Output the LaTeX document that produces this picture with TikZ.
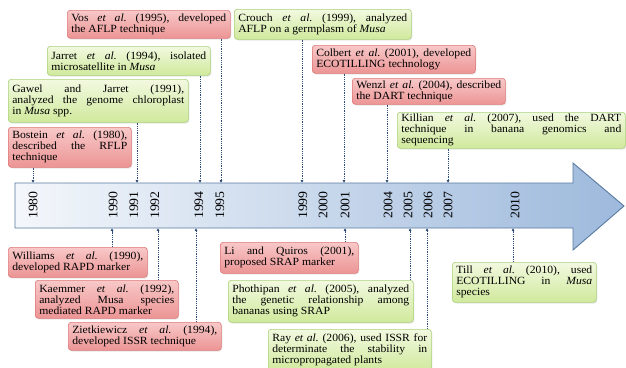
\documentclass[tikz,border=0pt]{standalone}
\usepackage{fontspec}
\setmainfont{Liberation Serif}[FakeStretch=1.06]
\usetikzlibrary{shadows,arrows.meta}
\frenchspacing
\definecolor{redT}{HTML}{F8C8C8}
\definecolor{redBt}{HTML}{EC9494}
\definecolor{redD}{HTML}{DF7878}
\definecolor{grnT}{HTML}{F2F9E0}
\definecolor{grnBt}{HTML}{D0E99C}
\definecolor{grnD}{HTML}{AAD17B}
\definecolor{arrL}{HTML}{F4F7FB}
\definecolor{arrR}{HTML}{9DB9DC}
\definecolor{arrD}{HTML}{5A7AA0}
\definecolor{connC}{HTML}{2F4D7A}
\tikzset{
  box/.style={rounded corners=3pt, line width=0.6pt, inner xsep=4pt, inner ysep=2pt,
    align=justify, anchor=north west, font=\fontsize{11}{11}\selectfont\frenchspacing,
    drop shadow={opacity=0.18, shadow xshift=1pt, shadow yshift=-1.2pt}},
  redbox/.style={box, draw=redD, top color=redT, bottom color=redBt},
  grnbox/.style={box, draw=grnD, top color=grnT, bottom color=grnBt},
  yearlbl/.style={rotate=90, font=\fontsize{13}{13}\selectfont, inner sep=0pt},
  conn/.style={draw=connC, line width=0.9pt, dash pattern=on 1pt off 0.8pt,
    -{Latex[length=2.8pt,width=2.8pt]}},
  bigarrow/.style={draw=arrD, line width=0.9pt, left color=arrL, right color=arrR}
}
\begin{document}
\begin{tikzpicture}[x=1pt,y=1pt]
\clip (0,0) rectangle (626,-367);
\fill[white] (0,0) rectangle (626,-367);
% big arrow
\draw[bigarrow] (15,-183) -- (573,-183) -- (573,-163) -- (624,-206) -- (573,-250) -- (573,-228) -- (15,-228) -- cycle;
% years
\foreach \yr/\xx in {1980/33,1990/113,1991/134,1992/155,1994/199,1995/220,1999/303,2000/323,2001/345,2004/388,2005/408,2006/428,2007/448,2010/515}
  \node[yearlbl] (y\yr) at (\xx,-205) {\yr};
% anchor points on the arrow
\coordinate (t1980) at (33,-183);
\coordinate (t1991) at (137,-183);
\coordinate (t1994) at (200,-183);
\coordinate (t1995) at (221,-183);
\coordinate (t1999) at (302,-183);
\coordinate (t2001) at (344,-183);
\coordinate (t2004) at (387,-183);
\coordinate (t2007) at (448,-183);
\coordinate (b1990) at (112,-228);
\coordinate (b1992) at (158,-228);
\coordinate (b1994) at (196,-228);
\coordinate (b2001) at (345,-228);
\coordinate (b2005) at (410,-228);
\coordinate (b2006) at (427,-228);
\coordinate (b2010) at (513,-228);
% top boxes
\node[redbox, text width=155pt, minimum height=28pt] (vos) at (67,-10)
  {Vos \emph{et al.} (1995), developed\linebreak the AFLP technique};
\node[grnbox, text width=169pt, minimum height=30pt] (crouch) at (234,-9)
  {Crouch \emph{et al.} (1999), analyzed\linebreak AFLP on a germplasm of \emph{Musa}};
\node[grnbox, text width=155pt, minimum height=29pt] (jarret) at (47,-46)
  {Jarret \emph{et al.} (1994), isolated\linebreak microsatellite in \emph{Musa}};
\node[grnbox, text width=172pt, minimum height=43pt] (gawel) at (8,-79)
  {Gawel and Jarret (1991),\linebreak analyzed the genome chloroplast\linebreak in \emph{Musa} spp.};
\node[redbox, text width=115pt, minimum height=40pt] (bostein) at (8,-127)
  {Bostein \emph{et al.} (1980),\linebreak described the RFLP\linebreak technique};
\node[redbox, text width=155pt, minimum height=28pt] (colbert) at (312,-45)
  {Colbert \emph{et al.} (2001), developed\linebreak ECOTILLING technology};
\node[redbox, text width=145pt, minimum height=26pt] (wenzl) at (352,-78)
  {Wenzl \emph{et al.} (2004), described\linebreak the DART technique};
\node[grnbox, text width=220pt, minimum height=36pt] (killian) at (397,-112)
  {Killian \emph{et al.} (2007), used the DART\linebreak technique in banana genomics and\linebreak sequencing};
% bottom boxes
\node[redbox, text width=131pt, minimum height=30pt] (williams) at (8,-247)
  {Williams \emph{et al.} (1990),\linebreak developed RAPD marker};
\node[redbox, text width=135pt, minimum height=38pt] (kaemmer) at (35,-280)
  {Kaemmer \emph{et al.} (1992),\linebreak analyzed Musa species\linebreak mediated RAPD marker};
\node[redbox, text width=145pt, minimum height=28pt] (ziet) at (68,-322)
  {Zietkiewicz \emph{et al.} (1994),\linebreak developed ISSR technique};
\node[redbox, text width=130pt, minimum height=31pt] (li) at (220,-242)
  {Li and Quiros (2001),\linebreak proposed SRAP marker};
\node[grnbox, text width=177pt, minimum height=42pt] (photh) at (228,-280)
  {Phothipan \emph{et al.} (2005), analyzed\linebreak the genetic relationship among\linebreak bananas using SRAP};
\node[grnbox, text width=155pt, minimum height=42pt] (ray) at (268,-329)
  {Ray \emph{et al.} (2006), used ISSR for\linebreak determinate the stability in\linebreak micropropagated plants};
\node[grnbox, text width=136pt, minimum height=40pt] (till) at (452,-262)
  {Till \emph{et al.} (2010), used\linebreak ECOTILLING in \emph{Musa}\linebreak species};
% connectors
\draw[conn] (bostein.south -| t1980) -- (t1980);
\draw[conn] (gawel.south -| t1991) -- (t1991);
\draw[conn] (jarret.south -| t1994) -- (t1994);
\draw[conn] (vos.south -| t1995) -- (t1995);
\draw[conn] (crouch.south -| t1999) -- (t1999);
\draw[conn] (colbert.south -| t2001) -- (t2001);
\draw[conn] (wenzl.south -| t2004) -- (t2004);
\draw[conn] (killian.south -| t2007) -- (t2007);
\draw[conn] (williams.north -| b1990) -- (b1990);
\draw[conn] (kaemmer.north -| b1992) -- (b1992);
\draw[conn] (ziet.north -| b1994) -- (b1994);
\draw[conn] (li.north -| b2001) -- (b2001);
\draw[conn] (photh.north -| b2005) -- (b2005);
\draw[conn] (ray.north -| b2006) -- (b2006);
\draw[conn] (till.north -| b2010) -- (b2010);
\end{tikzpicture}
\end{document}
